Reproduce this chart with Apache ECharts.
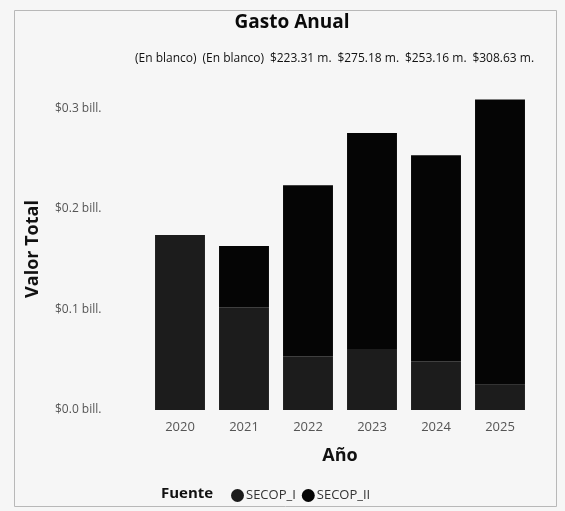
<!DOCTYPE html>
<html>
<head>
<meta charset="utf-8">
<script src="https://cdn.jsdelivr.net/npm/echarts@6/dist/echarts.min.js"></script>
<style>
html,body{margin:0;padding:0;background:#f3f3f3;}
#chart{width:565px;height:511px;}
</style>
</head>
<body>
<div id="chart"></div>
<script>
// Data (values in millions of pesos)
const years = ['2020', '2021', '2022', '2023', '2024', '2025'];
const secopI = [174, 102, 53.5, 60.6, 48.5, 25];
const secopII = [0, 61, 169.81, 214.58, 204.66, 283.63];
const totalLabels = ['(En blanco)', '(En blanco)', '$223.31 m.', '$275.18 m.', '$253.16 m.', '$308.63 m.'];
const yTicks = [0, 100, 200, 300];

const FONT = 'Open Sans';
const chart = echarts.init(document.getElementById('chart'));
chart.setOption({
  backgroundColor: '#f6f6f6',
  animation: false,
  textStyle: { fontFamily: FONT },
  graphic: [{
    type: 'rect', left: 12, top: 8, shape: { width: 542, height: 496 },
    style: { fill: 'none', stroke: '#b8b8b8', lineWidth: 1 }, silent: true, z: -1
  }],
  title: [
    { text: 'Gasto Anual', left: 287, top: 8, textAlign: 'center',
      textStyle: { fontFamily: FONT, fontSize: 19, fontWeight: 'bold', color: '#0a0a0a' } },
    { text: 'Fuente', left: 156, top: 481,
      textStyle: { fontFamily: FONT, fontSize: 15, fontWeight: 'bold', color: '#111' } }
  ],
  legend: {
    left: 226, top: 484, itemGap: 6, itemWidth: 13, itemHeight: 13,
    icon: 'circle',
    textStyle: { fontFamily: FONT, fontSize: 13, color: '#333', padding: [0, 0, 0, -3] },
    data: ['SECOP_I', 'SECOP_II']
  },
  grid: [
    { left: 148, right: 33, top: 88, bottom: 101 },
    { left: 132, right: 28, top: 88, bottom: 101 }
  ],
  xAxis: [{
    type: 'category', data: years, gridIndex: 0,
    name: 'Año', nameLocation: 'middle', nameGap: 37,
    nameTextStyle: { fontFamily: FONT, fontSize: 18, fontWeight: 'bold', color: '#111' },
    axisLine: { show: false }, axisTick: { show: false },
    axisLabel: { fontSize: 13, color: '#555', margin: 11 }
  }, {
    type: 'category', data: totalLabels, position: 'top', gridIndex: 1,
    axisLine: { show: false }, axisTick: { show: false },
    axisLabel: { interval: 0, fontSize: 12, color: '#111', margin: 23 }
  }],
  yAxis: [{
    type: 'value', min: 0, max: 320, interval: 100, gridIndex: 0,
    name: 'Valor Total', nameLocation: 'middle', nameGap: 106, nameRotate: 90,
    nameTextStyle: { fontFamily: FONT, fontSize: 18, fontWeight: 'bold', color: '#111' },
    splitLine: { show: false }, axisLine: { show: false }, axisTick: { show: false },
    axisLabel: {
      align: 'left', margin: 93, fontSize: 12, color: '#555', showMaxLabel: false,
      formatter: v => yTicks.includes(v) ? '$' + (v / 1000).toFixed(1) + ' bill.' : ''
    }
  }, {
    type: 'value', gridIndex: 1, show: false
  }],
  series: [{
    name: 'SECOP_I', type: 'bar', stack: 'total', data: secopI,
    barWidth: '78%', itemStyle: { color: '#1c1c1c' }
  }, {
    name: 'SECOP_II', type: 'bar', stack: 'total', data: secopII,
    barWidth: '78%', itemStyle: { color: '#050505' }
  }]
});
</script>
</body>
</html>
